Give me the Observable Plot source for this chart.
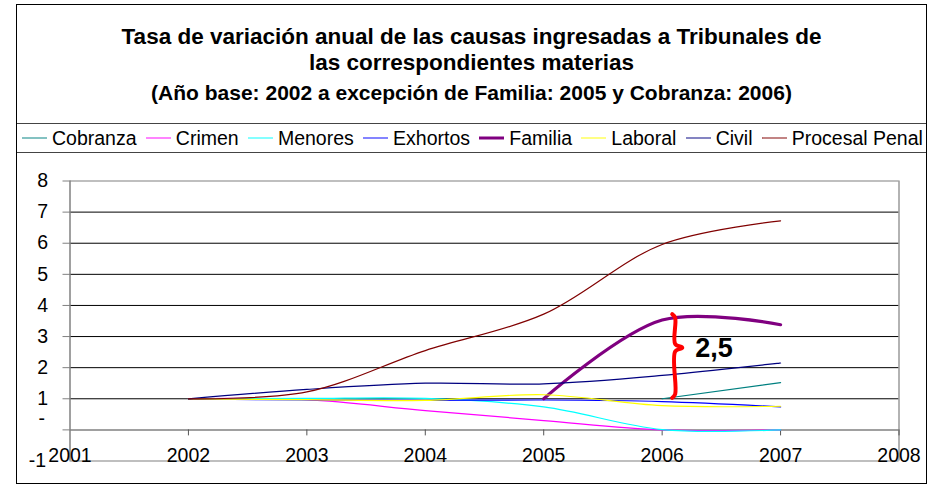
<!DOCTYPE html>
<html>
<head>
<meta charset="utf-8">
<script src="https://cdn.jsdelivr.net/npm/d3@7"></script>
<script src="https://cdn.jsdelivr.net/npm/@observablehq/plot@0.6"></script>
<style>
  html, body { margin: 0; padding: 0; background: #fff; }
  body { width: 933px; height: 487px; position: relative; overflow: hidden;
         font-family: "Liberation Sans", Arial, sans-serif; }
  #frame { position: absolute; left: 16px; top: 4px; width: 911px; height: 480px;
           border: 1.5px solid #000; box-sizing: border-box; }
  .title { position: absolute; left: 0; width: 100%; text-align: center; font-weight: bold; color: #000; }
  #t1 { top: 19px; font-size: 22.5px; line-height: 26px; }
  #t2 { top: 75px; font-size: 21px; line-height: 26px; }
  #legend { position: absolute; left: 0; top: 118px; width: 100%; height: 30px; box-sizing: border-box;
            border-top: 1px solid #444; border-bottom: 1px solid #444;
            display: flex; align-items: center; justify-content: space-between;
            padding: 0 3px 0 5px; font-size: 19.5px; }
  .item { display: flex; align-items: center; white-space: nowrap; }
  .item svg { margin-right: 5px; }
  #plot { position: absolute; left: 0; top: 148px; }
</style>
</head>
<body>
<div id="frame">
  <div class="title" id="t1"></div>
  <div class="title" id="t2"></div>
  <div id="legend"></div>
  <div id="plot"></div>
</div>
<script>
// ---- data ----
const titleLines = ["Tasa de variación anual de las causas ingresadas a Tribunales de", "las correspondientes materias"];
const subtitle = "(Año base: 2002 a excepción de Familia: 2005 y Cobranza: 2006)";
const years = [2002, 2003, 2004, 2005, 2006, 2007];
const seriesNames = ["Cobranza", "Crimen", "Menores", "Exhortos", "Familia", "Laboral", "Civil", "Procesal Penal"];
const seriesColors = ["#008080", "#FF00FF", "#00FFFF", "#0000FF", "#800080", "#FFFF00", "#000080", "#800000"];
const seriesWidths = [1.2, 1.2, 1.2, 1.2, 3.2, 1.2, 1.2, 1.2];
const cobranza = [null, null, null, null, 1.00, 1.52];
const crimen   = [1.00, 0.97, 0.62, 0.30, 0.00, 0.00];
const menores  = [1.00, 1.01, 1.01, 0.74, 0.01, 0.00];
const exhortos = [1.00, 0.96, 0.95, 0.96, 0.91, 0.74];
const familia  = [null, null, null, 1.00, 3.53, 3.38];
const laboral  = [1.00, 0.97, 0.95, 1.13, 0.78, 0.76];
const civil    = [1.00, 1.30, 1.50, 1.48, 1.75, 2.15];
const procesal = [1.00, 1.22, 2.55, 3.72, 5.96, 6.72];
const seriesValues = [cobranza, crimen, menores, exhortos, familia, laboral, civil, procesal];
const xDomain = [2001, 2008];
const yDomain = [-1, 8];
const xTickLabels = [2001, 2002, 2003, 2004, 2005, 2006, 2007, 2008];
const xTickMarks = [2002, 2003, 2004, 2005, 2006, 2007, 2008];
const yTickMarks = [0, 1, 2, 3, 4, 5, 6, 7, 8];
const yNumberLabels = [1, 2, 3, 4, 5, 6, 7, 8];
const yZeroLabel = [0];
const yMinusLabel = [-1];
const gridLines = [1, 2, 3, 4, 5, 6, 7];
// annotation: brace from Cobranza base to Familia peak
const braceX = 2006.11;
const braceBottom = 1.03;
const braceTop = 3.72;
const braceMid = 2.64;
const annotationText = "2,5";
const annotationX = 2006.28;
const annotationY = 2.62;

// ---- titles ----
document.getElementById("t1").innerHTML = titleLines.join("<br>");
document.getElementById("t2").textContent = subtitle;

// ---- legend ----
const legend = document.getElementById("legend");
seriesNames.forEach((name, i) => {
  const it = document.createElement("div");
  it.className = "item";
  it.innerHTML = `<svg width="25" height="10"><line x1="0" x2="25" y1="5" y2="5" stroke="${seriesColors[i]}" stroke-width="${seriesWidths[i] > 2 ? 3 : 1.3}" stroke-opacity="${seriesWidths[i] > 2 ? 1 : 0.75}"/></svg><span>${name}</span>`;
  legend.appendChild(it);
});

// ---- table ----
const rows = [];
seriesNames.forEach((name, i) => {
  years.forEach((yr, j) => {
    const v = seriesValues[i][j];
    if (v !== null) rows.push({series: name, year: yr, value: v});
  });
});

const brace = [
  {x: braceX - 0.025, y: braceTop},
  {x: braceX, y: braceTop - 0.12},
  {x: braceX, y: braceMid + 0.12},
  {x: braceX + 0.06, y: braceMid},
  {x: braceX, y: braceMid - 0.12},
  {x: braceX, y: braceBottom + 0.12},
  {x: braceX - 0.025, y: braceBottom}
];

const chart = Plot.plot({
  width: 908, height: 330,
  marginLeft: 52.5, marginRight: 26.5, marginTop: 27.5, marginBottom: 22.5,
  x: {domain: xDomain, axis: null},
  y: {domain: yDomain, axis: null},
  color: {domain: seriesNames, range: seriesColors},
  style: {fontFamily: "'Liberation Sans', Arial, sans-serif", fontSize: "19.5px", background: "transparent", overflow: "visible", color: "#000"},
  marks: [
    Plot.ruleY(gridLines, {stroke: "#000", strokeWidth: 1}),
    Plot.ruleY([yDomain[1]], {stroke: "#808080", strokeWidth: 1.2}),
    Plot.ruleY([yDomain[0]], {stroke: "#808080", strokeWidth: 1.2}),
    Plot.ruleY([0], {stroke: "#808080", strokeWidth: 1.5}),
    Plot.ruleX([xDomain[1]], {stroke: "#808080", strokeWidth: 1.2}),
    Plot.ruleX([xDomain[0]], {stroke: "#808080", strokeWidth: 1.5}),
    Plot.axisY({ticks: yTickMarks, tickSize: 7, tickFormat: () => "", stroke: "#808080", label: null}),
    Plot.ruleX(xTickMarks, {x: d => d, y1: 0, y2: 0, insetBottom: -6, stroke: "#555"}),
    ...seriesNames.map((name, i) => Plot.line(rows.filter(r => r.series === name), {
      x: "year", y: "value", stroke: seriesColors[i], strokeWidth: seriesWidths[i], curve: "catmull-rom"
    })),
    Plot.line(brace, {x: "x", y: "y", stroke: "#FF0000", strokeWidth: 4, curve: "catmull-rom", strokeLinecap: "round", strokeLinejoin: "round"}),
    Plot.text([annotationText], {x: () => annotationX, y: () => annotationY, text: d => d, textAnchor: "start", fontWeight: "bold", fontSize: 27}),
    Plot.text(xTickLabels, {x: d => d, frameAnchor: "bottom", text: d => String(d), dy: 1}),
    Plot.text(yNumberLabels, {y: d => d, frameAnchor: "left", text: d => String(d), textAnchor: "end", dx: -22}),
    Plot.text(yZeroLabel, {y: d => d, frameAnchor: "left", text: () => "-", textAnchor: "end", dx: -25, dy: -11}),
    Plot.text(yMinusLabel, {y: d => d, frameAnchor: "left", text: d => String(d), textAnchor: "end", dx: -24, dy: 0})
  ]
});
document.getElementById("plot").appendChild(chart);
</script>
</body>
</html>
